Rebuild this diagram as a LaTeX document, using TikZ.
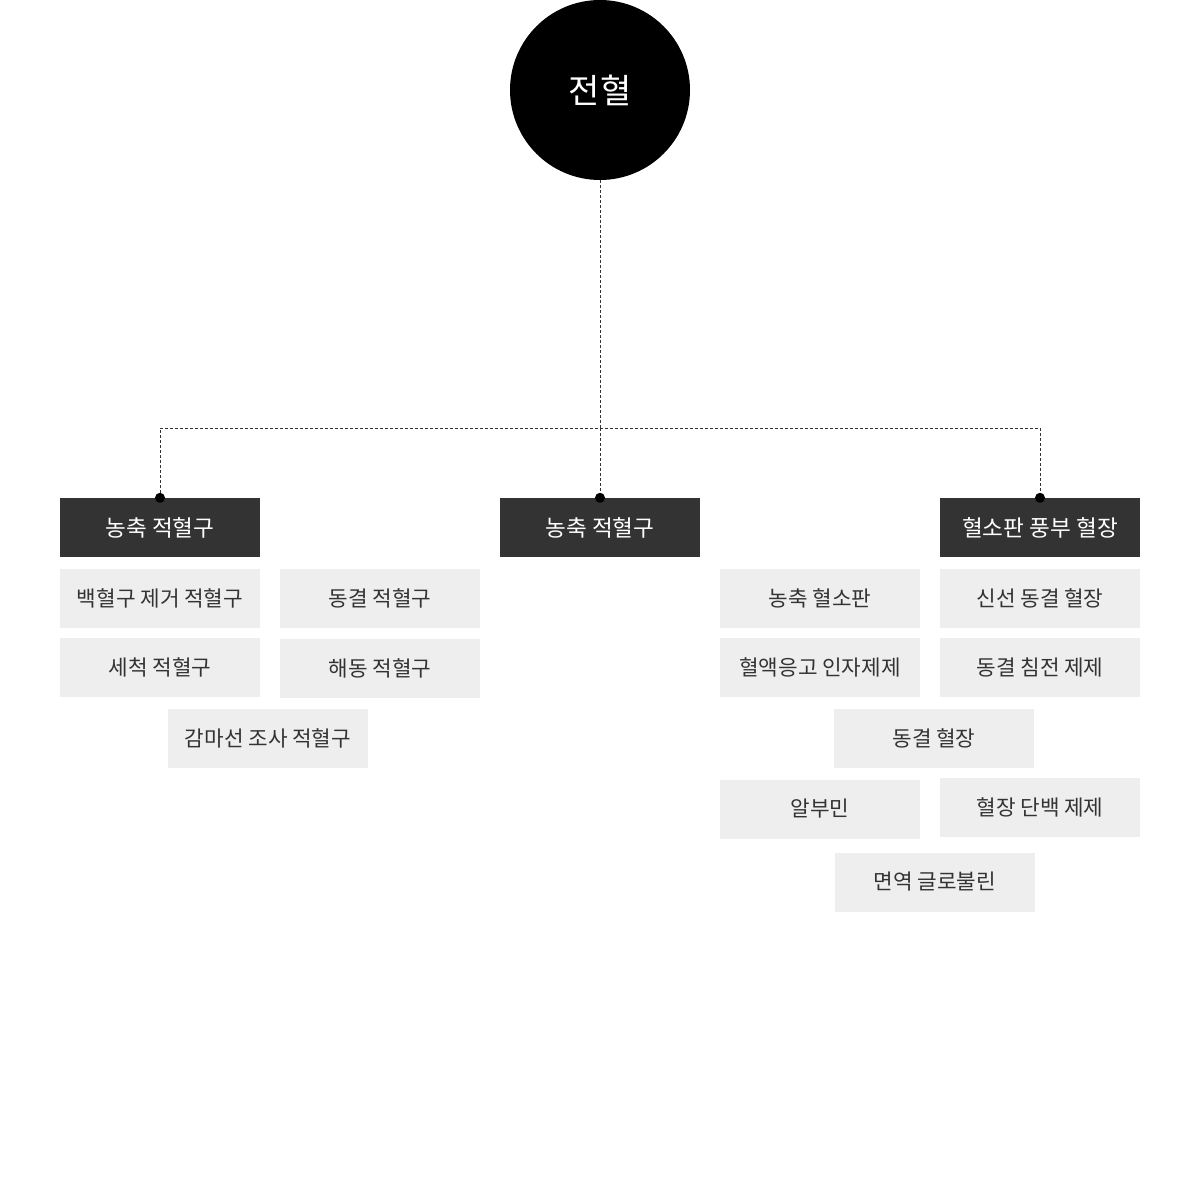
\documentclass[tikz,border=0pt]{standalone}
\usepackage{fontspec}
\setmainfont{Noto Sans CJK KR}
\usetikzlibrary{positioning}
\definecolor{boxdark}{HTML}{333333}
\definecolor{boxlight}{HTML}{EEEEEE}

\begin{document}
\begin{tikzpicture}[x=1pt, y=-1pt,
  root/.style={circle, fill=black, text=white, minimum size=180pt, inner sep=0pt, font=\fontsize{34}{38}\selectfont},
  head/.style={fill=boxdark, text=white, minimum width=200pt, minimum height=59pt, inner sep=0pt, font=\fontsize{22.6}{26}\selectfont},
  item/.style={fill=boxlight, text=boxdark, minimum width=200pt, minimum height=59pt, inner sep=0pt, font=\fontsize{21.3}{25}\selectfont},
  link/.style={dash pattern=on 3pt off 2pt, line width=0.9pt, boxdark}]
 			%%%	Sfondo
 			\fill[white] (0,0) rectangle (1200,1200);
 			\useasboundingbox (0,0) rectangle (1200,1200);
 			%%%	Radice
 			\node[root] (blood) at (600,90) {전혈};
 			\coordinate (split) at (600,428);
 			%%%	Intestazioni
 			\node[head] (rbc) at (160,527.5) {농축 적혈구};
 			\node[head] (mid) at (600,527.5) {농축 적혈구};
 			\node[head] (plasma) at (1040,527.5) {혈소판 풍부 혈장};
 			%%%	Collegamenti
 			\draw[link] (blood.south) -- (split);
 			\draw[link] (rbc.north) |- (split) -| (plasma.north);
 			\draw[link] (split) -- (mid.north);
 			\foreach \h in {rbc, mid, plasma}
 			\fill[black] (\h.north) circle (5pt);
 			%%%	Sinistra
 			\node[item] (leukored) at (160,598) {백혈구 제거 적혈구};
 			\node[item] (frozen) at (380,598) {동결 적혈구};
 			\node[item] (washed) at (160,667.5) {세척 적혈구};
 			\node[item] (thawed) at (380,668) {해동 적혈구};
 			\node[item] (gamma) at (268,738) {감마선 조사 적혈구};
 			%%%	Destra
 			\node[item] (platelet) at (820,598) {농축 혈소판};
 			\node[item] (fresh) at (1040,598) {신선 동결 혈장};
 			\node[item] (factor) at (820,667.5) {혈액응고 인자제제};
 			\node[item] (cryo) at (1040,667) {동결 침전 제제};
 			\node[item] (fp) at (934,738) {동결 혈장};
 			\node[item] (albumin) at (820,809) {알부민};
 			\node[item] (protein) at (1040,807) {혈장 단백 제제};
 			\node[item] (immuno) at (935,882) {면역 글로불린};
\end{tikzpicture}
\end{document}
